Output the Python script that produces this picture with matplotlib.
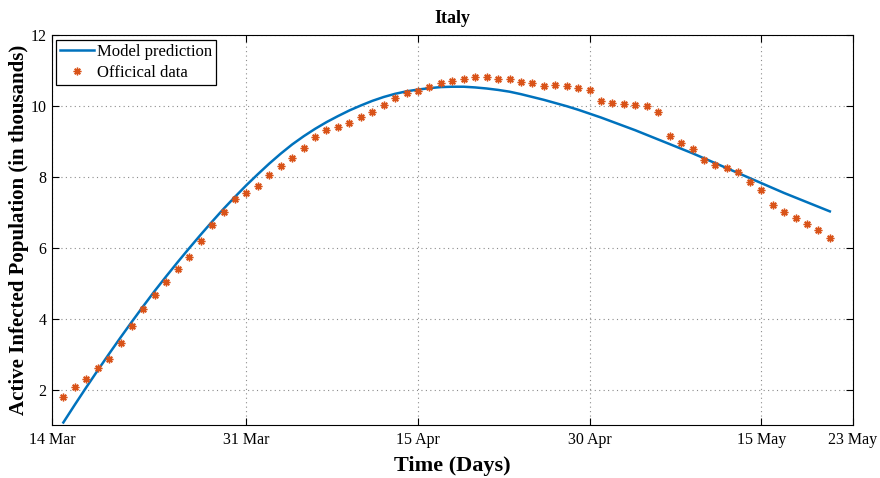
import numpy as np
import pandas as pd
import matplotlib
matplotlib.use("Agg")
import matplotlib.pyplot as plt
import matplotlib.dates as mdates

# Active infected population in Italy (units of 10k, as shown on the axis)
official = [1.78, 2.06, 2.31, 2.61, 2.87, 3.32, 3.79, 4.27, 4.66, 5.04,
            5.40, 5.75, 6.20, 6.64, 7.01, 7.39, 7.55, 7.76,
            8.06, 8.30, 8.54, 8.83, 9.12, 9.32, 9.41, 9.53, 9.69, 9.83,
            10.03, 10.23, 10.36, 10.43, 10.54, 10.66, 10.70, 10.78, 10.83, 10.82,
            10.77, 10.77, 10.68, 10.65, 10.58, 10.61, 10.58, 10.52, 10.47, 10.16,
            10.09, 10.07, 10.02, 10.00, 9.85, 9.15, 8.96, 8.80, 8.48, 8.33,
            8.25, 8.13, 7.85, 7.64, 7.21, 7.02, 6.84, 6.66, 6.51, 6.28]

model = [1.07, 1.57, 2.06, 2.54, 3.01, 3.47, 3.92, 4.36, 4.79, 5.20,
         5.60, 5.99, 6.37, 6.74, 7.10, 7.44, 7.77, 8.08, 8.38, 8.66,
         8.92, 9.15, 9.36, 9.55, 9.72, 9.88, 10.02, 10.15, 10.26, 10.35,
         10.42, 10.47, 10.51, 10.54, 10.55, 10.55, 10.53, 10.50, 10.46, 10.41,
         10.34, 10.26, 10.18, 10.09, 10.00, 9.90, 9.79, 9.68, 9.56, 9.44,
         9.32, 9.19, 9.06, 8.93, 8.80, 8.67, 8.53, 8.39, 8.25, 8.11,
         7.97, 7.83, 7.69, 7.55, 7.42, 7.29, 7.16, 7.03]

start_date = "2020-03-15"
tick_dates = ["2020-03-14", "2020-03-31", "2020-04-15", "2020-04-30",
              "2020-05-15", "2020-05-23"]

dates = pd.date_range(start_date, periods=len(official), freq="D")

plt.rcParams["font.family"] = ["Liberation Serif", "DejaVu Serif"]

fig = plt.figure(figsize=(8.8, 4.78), dpi=100)
ax = fig.add_axes([0.059, 0.111, 0.910, 0.815])

ax.plot(dates, model, color="#0072BD", linewidth=1.8, label="Model prediction")
ax.plot(dates, official, linestyle="none", marker=(8, 2, 0), markersize=5.5,
        color="#D95319", markeredgewidth=1.0, label="Officical data")

ticks = pd.to_datetime(tick_dates)
ax.set_xlim(ticks[0], ticks[-1])
ax.set_xticks(ticks)
ax.xaxis.set_major_formatter(mdates.DateFormatter("%d %b"))
ax.set_ylim(1, 12)
ax.set_yticks([2, 4, 6, 8, 10, 12])

ax.grid(True, linestyle=(0, (1, 3)), color="#8c8c8c", linewidth=0.8)
ax.tick_params(direction="in", top=True, right=True, labelsize=11.5, length=5,
               pad=5)
ax.tick_params(axis="y", pad=4)
for s in ax.spines.values():
    s.set_linewidth(0.8)

ax.set_title("Italy", fontsize=13, fontweight="bold", pad=9)
ax.set_xlabel("Time (Days)", fontsize=16, fontweight="bold", labelpad=6)
ax.set_ylabel("Active Infected Population (in thousands)", fontsize=15,
              fontweight="bold", labelpad=1)

leg = ax.legend(loc="upper left", fontsize=12, fancybox=False, framealpha=1,
                edgecolor="black", borderaxespad=0.25, handlelength=2.0,
                handletextpad=0.2, borderpad=0.25, labelspacing=0.3)
leg.get_frame().set_linewidth(0.9)

fig.savefig("out.png", dpi=100)
